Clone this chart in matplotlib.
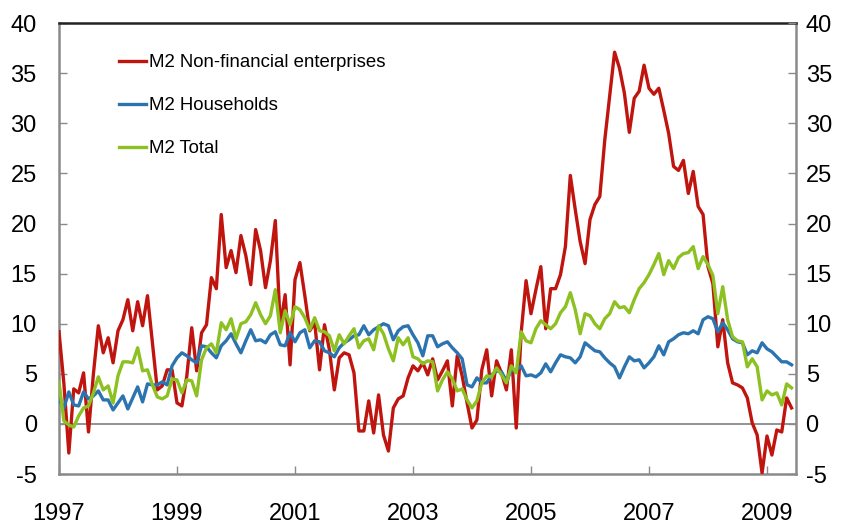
import numpy as np
import matplotlib
matplotlib.use('Agg')
import matplotlib.pyplot as plt

plt.rcParams['font.family'] = ['Liberation Sans', 'DejaVu Sans']
plt.rcParams['axes.unicode_minus'] = False

# monthly growth rates, Jan 1997 - Jun 2009
start_year = 1997
nonfin = [
    9.2, 4.0, -2.9, 3.5, 3.1, 5.1, -0.8, 5.0, 9.8, 7.1, 8.6, 6.1,
    9.3, 10.4, 12.4, 9.3, 12.2, 9.8, 12.8, 8.1, 3.4, 3.8, 5.4, 5.4,
    2.1, 1.8, 4.8, 9.6, 5.3, 9.1, 9.9, 14.6, 13.5, 20.9, 15.6, 17.3,
    15.1, 18.8, 16.8, 13.9, 19.4, 17.3, 13.6, 16.3, 20.3, 9.8, 12.9, 5.9,
    14.4, 16.1, 12.8, 9.3, 10.1, 5.4, 9.9, 7.4, 3.4, 6.6, 7.1, 6.9,
    5.1, -0.7, -0.7, 2.3, -0.9, 2.9, -1.1, -2.7, 1.6, 2.5, 2.8, 4.6,
    5.8, 5.3, 6.1, 4.9, 6.5, 4.4, 5.3, 6.3, 1.8, 6.8, 4.8, 2.1,
    -0.4, 0.4, 5.4, 7.4, 2.8, 6.3, 5.1, 3.4, 7.4, -0.4, 9.1, 14.3,
    11.0, 13.4, 15.7, 9.5, 13.5, 13.5, 14.9, 17.7, 24.8, 21.4, 18.2, 16.0,
    20.4, 21.9, 22.7, 28.3, 32.7, 37.1, 35.5, 33.0, 29.1, 32.5, 33.2, 35.8,
    33.5, 32.9, 33.5, 31.3, 29.0, 25.7, 25.3, 26.3, 23.0, 25.2, 21.7, 20.9,
    15.7, 14.0, 7.7, 10.4, 6.1, 4.1, 3.9, 3.6, 2.6, 0.1, -1.1, -4.9,
    -1.2, -3.1, -0.6, -0.8, 2.6, 1.6,
]
households = [
    2.5, 1.6, 3.2, 1.9, 1.8, 3.2, 2.5, 2.8, 3.3, 2.4, 2.4, 1.4,
    2.1, 2.8, 1.5, 2.6, 3.7, 2.2, 4.0, 3.9, 3.9, 4.2, 3.9, 5.8,
    6.6, 7.1, 6.8, 6.4, 6.1, 7.8, 7.7, 7.1, 6.6, 7.8, 8.3, 9.0,
    8.0, 7.1, 8.3, 9.4, 8.3, 8.4, 8.1, 8.9, 9.2, 7.9, 7.8, 9.1,
    8.2, 9.1, 9.4, 7.6, 8.3, 8.2, 7.3, 7.1, 6.7, 7.6, 8.1, 8.4,
    8.8, 8.9, 9.8, 8.9, 9.4, 9.7, 10.0, 9.8, 8.4, 9.3, 9.7, 9.8,
    8.9, 8.1, 6.8, 8.8, 8.8, 7.7, 8.0, 8.2, 7.6, 7.1, 6.5, 3.9,
    3.7, 4.6, 4.1, 4.1, 4.9, 5.3, 5.2, 4.3, 5.3, 5.4, 5.8, 4.8,
    4.9, 4.7, 5.1, 6.0, 5.2, 6.1, 6.9, 6.7, 6.6, 6.1, 6.7, 8.1,
    7.7, 7.3, 7.2, 6.6, 6.1, 5.7, 4.6, 5.7, 6.7, 6.3, 6.4, 5.6,
    6.1, 6.7, 7.8, 6.9, 8.2, 8.5, 8.9, 9.1, 9.0, 9.3, 9.0, 10.4,
    10.7, 10.5, 9.2, 10.1, 9.4, 8.5, 8.2, 8.1, 6.9, 7.3, 7.1, 8.1,
    7.5, 7.2, 6.7, 6.2, 6.2, 5.9,
]
total = [
    4.2, 0.3, -0.1, -0.3, 0.8, 1.6, 1.8, 3.1, 4.7, 3.4, 3.8, 2.1,
    4.8, 6.2, 6.2, 6.1, 7.6, 5.3, 5.4, 3.9, 2.7, 2.5, 2.8, 4.5,
    4.4, 3.1, 4.4, 4.3, 2.8, 6.4, 7.6, 8.0, 7.1, 10.1, 9.4, 10.5,
    8.5, 10.0, 10.2, 10.9, 12.1, 10.9, 10.0, 10.8, 13.4, 9.1, 11.3, 9.9,
    11.7, 11.4, 10.6, 9.4, 10.6, 9.3, 9.2, 8.8, 7.3, 8.9, 8.0, 8.8,
    9.5, 7.6, 8.3, 8.5, 7.4, 9.8, 9.0, 7.5, 6.3, 8.6, 7.9, 8.6,
    6.7, 6.5, 6.0, 6.3, 6.2, 3.3, 4.4, 5.2, 4.5, 3.3, 3.5, 2.4,
    1.6, 2.3, 4.1, 4.8, 4.7, 5.6, 4.9, 4.1, 5.8, 5.1, 9.2, 8.3,
    8.1, 9.5, 10.3, 9.9, 9.5, 10.0, 11.1, 11.7, 13.1, 11.4, 9.0, 11.0,
    10.8, 10.0, 9.5, 10.5, 11.0, 12.2, 11.6, 11.7, 11.1, 12.4, 13.5, 14.1,
    14.9, 15.9, 17.0, 14.9, 16.3, 15.5, 16.6, 17.0, 17.1, 17.7, 15.5, 16.7,
    15.9, 14.8, 11.0, 13.7, 10.4, 8.7, 8.3, 8.2, 5.7, 6.5, 5.7, 2.4,
    3.3, 2.9, 3.1, 1.9, 4.0, 3.6,
]
labels = ['M2 Non-financial enterprises', 'M2 Households', 'M2 Total']
colors = ['#C0140E', '#2C74B0', '#8DC021']
year_ticks = [1997, 1999, 2001, 2003, 2005, 2007, 2009]
y_ticks = [-5, 0, 5, 10, 15, 20, 25, 30, 35, 40]

x = start_year + np.arange(len(nonfin)) / 12.0
grey = '#8a8a8a'
tick_fs = 17

fig = plt.figure(figsize=(8.44, 5.25), dpi=100)
ax = fig.add_axes([0.0699, 0.097, 0.8731, 0.859])

ax.axhline(0, color=grey, lw=1.3, zorder=1)
for series, lab, col in zip([nonfin, households, total], labels, colors):
    ax.plot(x, series, color=col, lw=2.4, label=lab, zorder=3)

ax.set_xlim(1997, 2009.49)
ax.set_ylim(-5, 40)
ax.set_xticks(year_ticks)
ax.set_xticklabels([str(y) for y in year_ticks])
ax.set_yticks(y_ticks)

for side in ['left', 'right', 'bottom']:
    ax.spines[side].set_color(grey)
    ax.spines[side].set_linewidth(1.8)
ax.spines['top'].set_color('#222222')
ax.spines['top'].set_linewidth(1.8)

ax.tick_params(axis='y', direction='in', length=6, width=1, color=grey,
               labelsize=tick_fs, pad=16)
ax.tick_params(axis='x', direction='in', length=6, width=1, color=grey,
               labelsize=tick_fs, pad=21)

# second y axis only for the right-hand labels
ax2 = ax.twinx()
ax2.set_ylim(ax.get_ylim())
ax2.set_yticks(y_ticks)
ax2.tick_params(axis='y', direction='in', length=6, width=1, color=grey,
                labelsize=tick_fs, pad=7)
for side in ax2.spines:
    ax2.spines[side].set_visible(False)

ax.legend(loc='upper left', bbox_to_anchor=(0.081, 0.931), frameon=False,
          fontsize=13.4, handlelength=1.45, handletextpad=0.2,
          labelspacing=1.4, borderaxespad=0, borderpad=0)

plt.savefig('out.png', dpi=100)
